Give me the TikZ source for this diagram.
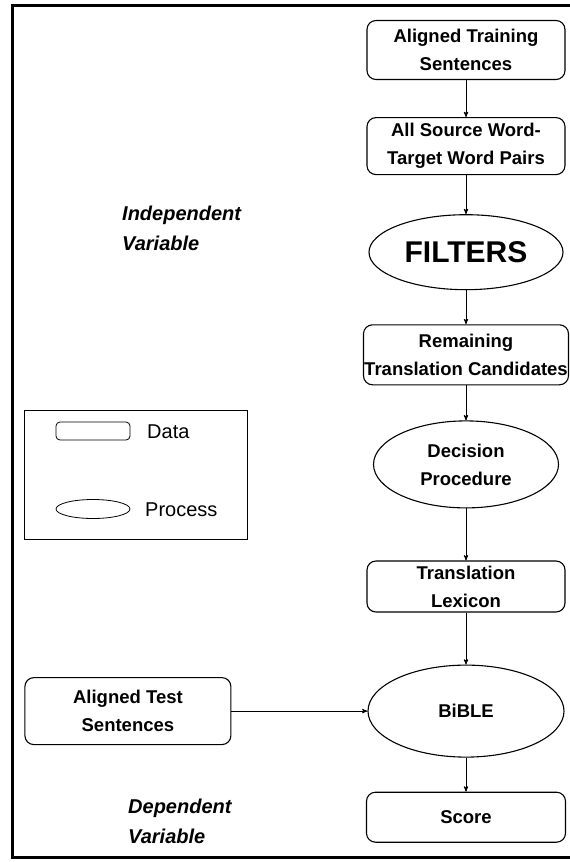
\documentclass[tikz,border=0pt]{standalone}
\usepackage{fontspec}
\setmainfont{Liberation Sans}
\usepackage{tikz}
\usetikzlibrary{positioning,shapes.geometric,arrows}
\pgfkeys{tikz/datbox/.style={draw,rounded corners=9pt,line width=1.1pt,align=center,font=\fontsize{18.5}{28}\selectfont\bfseries,minimum width=198pt,inner sep=0pt}}
\pgfkeys{tikz/procell/.style={draw,ellipse,line width=1.1pt,align=center,font=\fontsize{18.5}{28}\selectfont\bfseries,inner sep=0pt}}
\pgfkeys{tikz/varlabel/.style={anchor=west,align=left,inner sep=0pt,font=\fontsize{20}{30}\selectfont\bfseries\itshape}}
\pgfkeys{tikz/keytext/.style={anchor=west,inner sep=0pt,font=\fontsize{20}{24}\selectfont}}

\begin{document}
\begin{tikzpicture}[x=1pt,y=-1pt,>=stealth']
\useasboundingbox (0,0) rectangle (570,862);
\draw[line width=3pt] (570,5) -- (12,5) -- (12,857) -- (570,857);
% main column
 \node[datbox,minimum height=59pt] (n1) at (466,50) {Aligned Training\\Sentences};
  \node[datbox,minimum height=57pt,below=37pt of n1] (n2) {All Source Word-\\Target Word Pairs};
  \node[procell,minimum width=194pt,minimum height=75pt,font=\fontsize{30}{30}\selectfont\bfseries,below=39pt of n2] (n3) {FILTERS};
  \node[datbox,minimum width=205pt,minimum height=60pt,below=34pt of n3] (n4) {Remaining\\Translation Candidates};
  \node[procell,minimum width=185pt,minimum height=87pt,below=35pt of n4] (n5) {Decision\\Procedure};
  \node[datbox,minimum height=51pt,below=52pt of n5] (n6) {Translation\\Lexicon};
  \node[procell,minimum width=196pt,minimum height=92pt,below=52pt of n6] (n7) {BiBLE};
  \node[datbox,minimum width=199pt,minimum height=50pt,below=34pt of n7] (n8) {Score};
 \node[datbox,minimum width=206pt,minimum height=67pt,left=136pt of n7] (t0) {Aligned Test\\Sentences};
% labels
 \node[varlabel] (v1) at (122,228) {Independent\\Variable};
 \node[varlabel] (v2) at (128,821) {Dependent\\Variable};
% key
 \node[draw,line width=0.8pt,minimum width=223pt,minimum height=129pt,inner sep=0pt] (k0) at (135.5,474.5) {};
 \node[draw,line width=0.8pt,rounded corners=4pt,minimum width=74pt,minimum height=18pt,inner sep=0pt] (k1) at (93,431) {};
 \node[keytext] (k1t) at (147,432) {Data};
 \node[draw,line width=0.8pt,ellipse,minimum width=74pt,minimum height=19pt,inner sep=0pt] (k2) at (93,509) {};
 \node[keytext] (k2t) at (145,510) {Process};
  \draw [->,line width=0.9pt] (n1) -- (n2);
  \draw [->,line width=0.9pt] (n2) -- (n3);
  \draw [->,line width=0.9pt] (n3) -- (n4);
  \draw [->,line width=0.9pt] (n4) -- (n5);
  \draw [->,line width=0.9pt] (n5) -- (n6);
  \draw [->,line width=0.9pt] (n6) -- (n7);
  \draw [->,line width=0.9pt] (n7) -- (n8);
  \draw [->,line width=0.9pt] (t0) -- (n7);
\end{tikzpicture}
\end{document}
